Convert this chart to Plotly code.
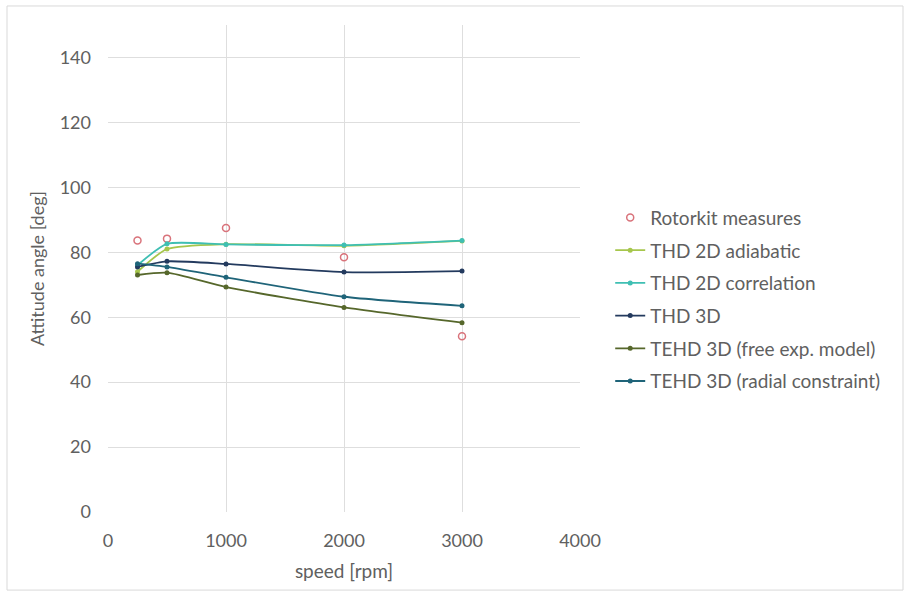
import plotly.graph_objects as go

speed = [250, 500, 1000, 2000, 3000]
rotorkit = [83.6, 84.2, 87.5, 78.5, 54.1]
thd2d_adiabatic = [74.0, 81.0, 82.5, 82.0, 83.5]
thd2d_correlation = [76.0, 82.6, 82.4, 82.2, 83.6]
thd3d = [75.5, 77.2, 76.4, 73.9, 74.2]
tehd_free = [73.0, 73.7, 69.3, 63.0, 58.3]
tehd_radial = [76.5, 75.5, 72.3, 66.3, 63.5]

x_ticks = [0, 1000, 2000, 3000, 4000]
y_ticks = [0, 20, 40, 60, 80, 100, 120, 140]

font = "Lato, 'Open Sans', sans-serif"
tick_color = "#606060"

fig = go.Figure()
fig.add_trace(go.Scatter(x=speed, y=rotorkit, mode="markers", name="Rotorkit measures",
                         legendgroup="g0",
                         marker=dict(symbol="circle-open", size=7, color="#d9737b", line=dict(width=1.5))))
series = [
    ("THD 2D adiabatic", thd2d_adiabatic, "#a6c64c"),
    ("THD 2D correlation", thd2d_correlation, "#3fbfb3"),
    ("THD 3D", thd3d, "#233a5e"),
    ("TEHD 3D (free exp. model)", tehd_free, "#56672b"),
    ("TEHD 3D (radial constraint)", tehd_radial, "#1f6479"),
]
for i, (name, ys, col) in enumerate(series):
    fig.add_trace(go.Scatter(x=speed, y=ys, mode="lines+markers", name=name,
                             legendgroup=f"g{i+1}",
                             line=dict(color=col, width=1.8, shape="spline", smoothing=0.6),
                             marker=dict(size=5, color=col)))

fig.update_layout(
    width=906, height=597,
    margin=dict(l=108, r=326, t=25, b=85),
    paper_bgcolor="white", plot_bgcolor="white",
    font=dict(family=font, size=19, color=tick_color),
    legend=dict(x=1.064, y=0.436, xanchor="left", yanchor="middle",
                font=dict(size=19, color=tick_color), tracegroupgap=5, itemwidth=30,
                bgcolor="rgba(0,0,0,0)"),
    shapes=[dict(type="rect", xref="paper", yref="paper",
                 x0=-101/472, x1=(903-108)/472, y0=-(590-512)/486.5, y1=1+(25-6)/486.5,
                 line=dict(color="#d9d9d9", width=1), fillcolor="rgba(0,0,0,0)", layer="below")],
)
fig.update_xaxes(range=[0, 4000], tickvals=x_ticks, showgrid=True, gridcolor="#dedede",
                 zeroline=False, showline=False, ticks="", ticklabelstandoff=16,
                 title=dict(text="speed [rpm]", font=dict(size=19, color=tick_color), standoff=14),
                 tickfont=dict(size=18, color=tick_color))
fig.update_yaxes(range=[0, 150], tickvals=y_ticks, showgrid=True, gridcolor="#dedede",
                 zeroline=False, showline=False, ticks="", ticklabelstandoff=16,
                 title=dict(text="Attitude angle [deg]", font=dict(size=18, color=tick_color), standoff=10),
                 tickfont=dict(size=18, color=tick_color))

fig.write_html("out.html")
